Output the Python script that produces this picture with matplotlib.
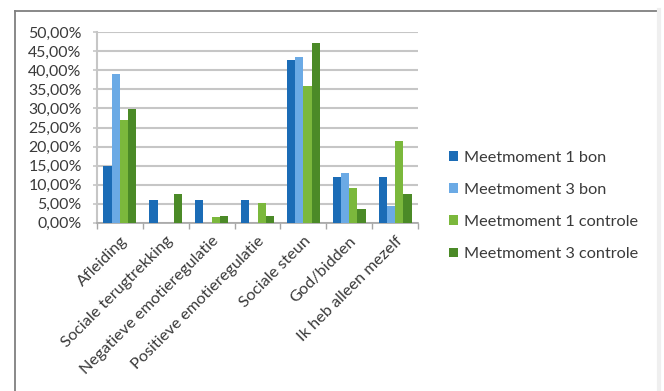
import numpy as np
import matplotlib
matplotlib.use("Agg")
import matplotlib.pyplot as plt
from matplotlib.lines import Line2D
from matplotlib.ticker import FuncFormatter

plt.rcParams['font.family'] = ['Lato', 'DejaVu Sans']

categories = ["Afleiding", "Sociale terugtrekking", "Negatieve emotieregulatie",
              "Positieve emotieregulatie", "Sociale steun", "God/bidden",
              "Ik heb alleen mezelf"]
series_names = ["Meetmoment 1 bon", "Meetmoment 3 bon",
                "Meetmoment 1 controle", "Meetmoment 3 controle"]
m1_bon = [15.0, 5.9, 5.9, 5.9, 42.6, 12.1, 12.1]
m3_bon = [39.1, 0.0, 0.0, 0.0, 43.5, 13.0, 4.3]
m1_controle = [26.9, 0.0, 1.5, 5.2, 35.8, 9.0, 21.5]
m3_controle = [29.9, 7.5, 1.8, 1.8, 47.2, 3.6, 7.5]
y_ticks = [0, 5, 10, 15, 20, 25, 30, 35, 40, 45, 50]

colors = ["#1B6CB6", "#6BAAE5", "#7BB83C", "#4B8A27"]
text_color = "#3A3A3A"
fs = 11.7

W, H = 664, 391
fig = plt.figure(figsize=(W / 100, H / 100), dpi=100)
fig.patch.set_facecolor("white")

# outer chart frame
fig.add_artist(Line2D([14.5 / W, 14.5 / W], [0, 1 - 10.5 / H], color="#7F7F7F", lw=1.3))
fig.add_artist(Line2D([14.5 / W, 657 / W], [1 - 10.5 / H, 1 - 10.5 / H], color="#7F7F7F", lw=1.3))
fig.add_artist(Line2D([659 / W, 659 / W], [0, 1 - 10 / H], color="#EFEFEF", lw=3))

ax = fig.add_axes([97 / W, (H - 222.7) / H, (418 - 97) / W, (222.7 - 32.3) / H])

series = [m1_bon, m3_bon, m1_controle, m3_controle]
x = np.arange(len(categories))
group = 0.72
bw = group / len(series)
for i, (vals, name, c) in enumerate(zip(series, series_names, colors)):
    ax.bar(x - group / 2 + bw * (i + 0.5), vals, width=bw, color=c, label=name, zorder=3)

ax.set_xlim(-0.5, len(categories) - 0.5)
ax.set_ylim(0, 50)
ax.set_yticks(y_ticks)
ax.yaxis.set_major_formatter(FuncFormatter(lambda v, p: f"{v:.2f}%".replace(".", ",")))
ax.yaxis.grid(True, color="#C6C6C6", lw=1.5, zorder=0)
ax.tick_params(axis="y", length=3, color="#C6C6C6", width=1.2, labelsize=11.4,
               labelcolor=text_color, pad=8)

ax.set_xticks(np.arange(len(categories) + 1) - 0.5, minor=False)
ax.set_xticklabels([])
ax.set_xticks(x, minor=True)
ax.set_xticklabels(categories, minor=True, rotation=45, ha="right",
                   rotation_mode="anchor", fontsize=fs, color=text_color)
ax.tick_params(axis="x", which="major", length=4, color="#A6A6A6", width=1)
ax.tick_params(axis="x", which="minor", length=0, pad=8)

for s in ["top", "right"]:
    ax.spines[s].set_visible(False)
ax.spines["left"].set_color("#C6C6C6")
ax.spines["left"].set_linewidth(1.5)
ax.spines["bottom"].set_color("#A6A6A6")
ax.spines["bottom"].set_linewidth(1.2)

handles, labels = ax.get_legend_handles_labels()
fig.legend(handles, labels, loc="upper left", bbox_to_anchor=(434 / W, 1 - 136 / H),
           frameon=False, fontsize=fs, labelcolor=text_color, handlelength=0.55,
           handleheight=0.55, handletextpad=0.4, labelspacing=1.12)

fig.savefig("out.png", dpi=100)
